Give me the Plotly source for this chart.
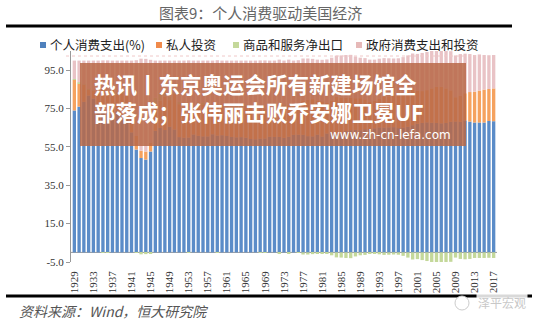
import plotly.graph_objects as go

years = list(range(1929, 2018))

consumption = [74.0, 76.0, 78.5, 81.8, 80.3, 77.1, 75.3, 73.3, 71.8, 73.6,
               71.9, 69.2, 62.6, 53.6, 49.2, 48.4, 52.6, 63.4, 64.9, 63.8,
               65.5, 64.1, 60.1, 59.8, 59.9, 61.5, 60.8, 60.5, 60.5, 61.6,
               60.9, 61.1, 60.7, 60.2, 60.0, 60.1, 59.8, 59.1, 59.0, 59.3,
               59.4, 60.3, 60.2, 60.2, 59.7, 60.3, 61.3, 61.4, 61.3, 60.6,
               60.5, 61.4, 60.4, 62.0, 62.9, 61.9, 62.7, 63.3, 63.7, 63.9,
               63.7, 64.2, 64.3, 64.7, 65.2, 65.1, 65.2, 65.3, 64.8, 65.1,
               65.5, 66.3, 67.1, 67.5, 67.8, 67.6, 67.5, 67.3, 67.5, 68.1,
               68.2, 68.1, 68.8, 68.2, 67.7, 67.7, 67.7, 68.5, 68.4]

investment = [16.0, 12.0, 8.8, 3.1, 3.9, 6.3, 10.2, 11.0, 13.7, 8.7,
              11.0, 13.5, 14.4, 7.1, 3.8, 4.2, 4.7, 14.0, 14.3, 17.5,
              13.9, 18.5, 17.2, 14.8, 14.8, 14.5, 16.8, 16.8, 15.5, 14.0,
              15.9, 15.2, 14.5, 15.3, 15.5, 15.6, 16.6, 16.9, 15.6, 15.4,
              15.7, 14.7, 15.5, 16.3, 17.1, 16.5, 14.4, 16.4, 17.9, 19.1,
              19.4, 17.5, 18.4, 15.9, 16.3, 19.1, 17.9, 17.3, 17.0, 16.5,
              16.7, 15.6, 14.1, 14.4, 15.1, 16.1, 16.2, 16.7, 17.6, 18.1,
              18.4, 18.7, 17.1, 16.6, 16.8, 17.9, 18.8, 19.0, 18.0, 16.4,
              12.7, 13.7, 14.2, 15.4, 16.1, 16.7, 17.2, 16.7, 17.1]

net_exports = [0.4, 0.7, 0.2, 0.3, 0.2, 0.6, -0.1, -0.1, 0.1, 1.3,
               0.9, 1.4, 0.8, -0.2, -1.0, -0.9, -0.4, 3.2, 4.1, 2.0,
               1.9, 0.6, 1.1, 0.5, -0.1, 0.4, 0.5, 0.9, 1.1, 0.2,
               -0.2, 0.5, 0.7, 0.5, 0.7, 1.0, 0.6, 0.3, 0.2, -0.1,
               -0.1, 0.4, 0.0, -0.5, 0.1, -0.5, 0.8, -0.2, -1.1, -1.1,
               -0.9, -0.5, -0.4, -0.6, -1.5, -2.6, -2.7, -2.9, -3.0, -2.1,
               -1.5, -1.3, -0.5, -0.5, -1.0, -1.3, -1.2, -1.1, -1.2, -1.8,
               -2.7, -3.7, -3.5, -4.0, -4.5, -5.1, -5.6, -5.6, -5.0, -4.9,
               -2.7, -3.4, -3.6, -3.4, -2.9, -2.9, -2.9, -2.8, -2.9]

government = [9.6, 11.3, 12.5, 14.8, 15.6, 16.0, 14.6, 15.8, 14.4, 16.4,
              16.2, 15.9, 22.2, 39.5, 48.0, 48.3, 43.1, 19.4, 16.7, 16.7,
              18.7, 16.8, 21.6, 24.9, 25.4, 23.6, 21.9, 21.8, 22.9, 24.2,
              23.4, 23.2, 24.1, 24.0, 23.8, 23.3, 23.0, 23.7, 25.2, 25.4,
              25.0, 24.6, 24.3, 24.0, 23.1, 23.7, 23.5, 22.4, 21.9, 21.4,
              21.0, 21.6, 21.6, 22.7, 22.3, 21.6, 22.1, 22.3, 22.3, 21.7,
              21.1, 21.5, 22.1, 21.4, 20.7, 20.1, 19.8, 19.1, 18.8, 18.6,
              18.8, 18.7, 19.3, 19.9, 19.9, 19.6, 19.3, 19.3, 19.5, 20.4,
              21.8, 21.6, 20.6, 19.8, 19.1, 18.8, 18.0, 17.6, 17.4]

series_names = ["个人消费支出(%)", "私人投资", "商品和服务净出口", "政府消费支出和投资"]
series_colors = ["#5b8cc8", "#f5a25f", "#c4d89a", "#e9c3c6"]
legend_colors = ["#4f81bd", "#f08a4b", "#c4d89a", "#e6b9b8"]
y_ticks = [-5, 15, 35, 55, 75, 95]
x_ticks = list(range(1929, 2018, 4))

W, H = 545, 323
L, R, T, B = 71, 48, 51, 61
PW, PH = W - L - R, H - T - B


def px(x):
    return (x - L) / PW


def py(y):
    return (H - B - y) / PH


fig = go.Figure()
for name, vals, col in zip(series_names, [consumption, investment, net_exports, government], series_colors):
    fig.add_trace(go.Bar(x=years, y=vals, name=name, marker=dict(color=col, line=dict(width=0))))

serif = "Liberation Serif"
cjk = "Noto Sans CJK SC"

fig.update_layout(
    width=W, height=H,
    margin=dict(l=L, r=R, t=T, b=B),
    paper_bgcolor="white", plot_bgcolor="white",
    barmode="relative", bargap=0.3,
    showlegend=False,
    xaxis=dict(range=[1928.3, 2017.7], tickmode="array", tickvals=x_ticks,
               ticktext=[str(v) for v in x_ticks], tickangle=-90,
               tickfont=dict(family=serif, size=11, color="#333"),
               showgrid=False, zeroline=False, showline=False,
               ticks="", ticklabelstandoff=6),
    yaxis=dict(range=[-5, 105], tickmode="array", tickvals=y_ticks,
               ticktext=[f"{v:.1f}" for v in y_ticks],
               tickfont=dict(family=serif, size=11, color="#333"),
               showgrid=False, zeroline=False, showline=True, linecolor="#999", linewidth=1,
               ticks="outside", ticklen=4, tickcolor="#999"),
)

shapes = []
# baseline at 0
shapes.append(dict(type="line", xref="paper", yref="y", x0=0, x1=1, y0=0, y1=0,
                   line=dict(color="#999", width=1), layer="below"))
# title rule
shapes.append(dict(type="line", xref="paper", yref="paper", x0=px(6), x1=px(512), y0=py(26), y1=py(26),
                   line=dict(color="black", width=3)))
# dotted line under legend
shapes.append(dict(type="line", xref="paper", yref="paper", x0=px(66), x1=px(476), y0=py(56), y1=py(56),
                   line=dict(color="#f0c8c8", width=1, dash="dot")))
# bottom rule
shapes.append(dict(type="line", xref="paper", yref="paper", x0=px(6), x1=px(532), y0=py(296), y1=py(296),
                   line=dict(color="black", width=3)))
# overlay banner
shapes.append(dict(type="rect", xref="paper", yref="paper", x0=px(80), x1=px(466), y0=py(63), y1=py(146),
                   fillcolor="rgba(184,104,72,0.85)", line=dict(width=0), layer="above"))
# watermark icon
shapes.append(dict(type="circle", xref="paper", yref="paper", x0=px(455), x1=px(469), y0=py(296), y1=py(310),
                   fillcolor="white", line=dict(color="#ccc", width=1), layer="above"))

# custom legend
legend_sq_x = [40, 156, 233, 356]
legend_y = 45
ann = []
for sx, col, name in zip(legend_sq_x, legend_colors, series_names):
    shapes.append(dict(type="rect", xref="paper", yref="paper", x0=px(sx), x1=px(sx + 6),
                       y0=py(legend_y + 3), y1=py(legend_y - 3), fillcolor=col, line=dict(width=0)))
    ann.append(dict(text=name, x=px(sx + 8), y=py(legend_y), xref="paper", yref="paper",
                    showarrow=False, font=dict(family=cjk, size=12.5, color="#222"),
                    xanchor="left", yanchor="middle"))
fig.update_layout(shapes=shapes)

ann.append(dict(text="图表9：个人消费驱动美国经济", x=px(260), y=py(13), xref="paper", yref="paper",
                showarrow=False, font=dict(family=cjk, size=15, color="#666"), xanchor="center", yanchor="middle"))
ann.append(dict(text="<i>资料来源：Wind，恒大研究院</i>", x=px(17), y=py(311), xref="paper", yref="paper",
                showarrow=False, font=dict(family=cjk, size=14, color="#555"), xanchor="left", yanchor="middle"))
ann.append(dict(text="泽平宏观", x=px(528), y=py(302), xref="paper", yref="paper",
                showarrow=False, font=dict(family=cjk, size=12, color="#c8c8c8"), xanchor="right", yanchor="middle",
                bgcolor="rgba(255,255,255,0.85)"))
ann.append(dict(text="<b>热讯丨东京奥运会所有新建场馆全<br>部落成；张伟丽击败乔安娜卫冕UF</b>",
                x=px(92), y=py(97), xref="paper", yref="paper", align="left",
                showarrow=False, font=dict(family=cjk, size=21.5, color="white"),
                xanchor="left", yanchor="middle"))
ann.append(dict(text="www.zh-cn-lefa.com", x=px(453), y=py(135), xref="paper", yref="paper",
                showarrow=False, font=dict(family="DejaVu Sans", size=12, color="white"),
                xanchor="right", yanchor="middle"))
fig.update_layout(annotations=ann)

fig.write_html("out.html")
